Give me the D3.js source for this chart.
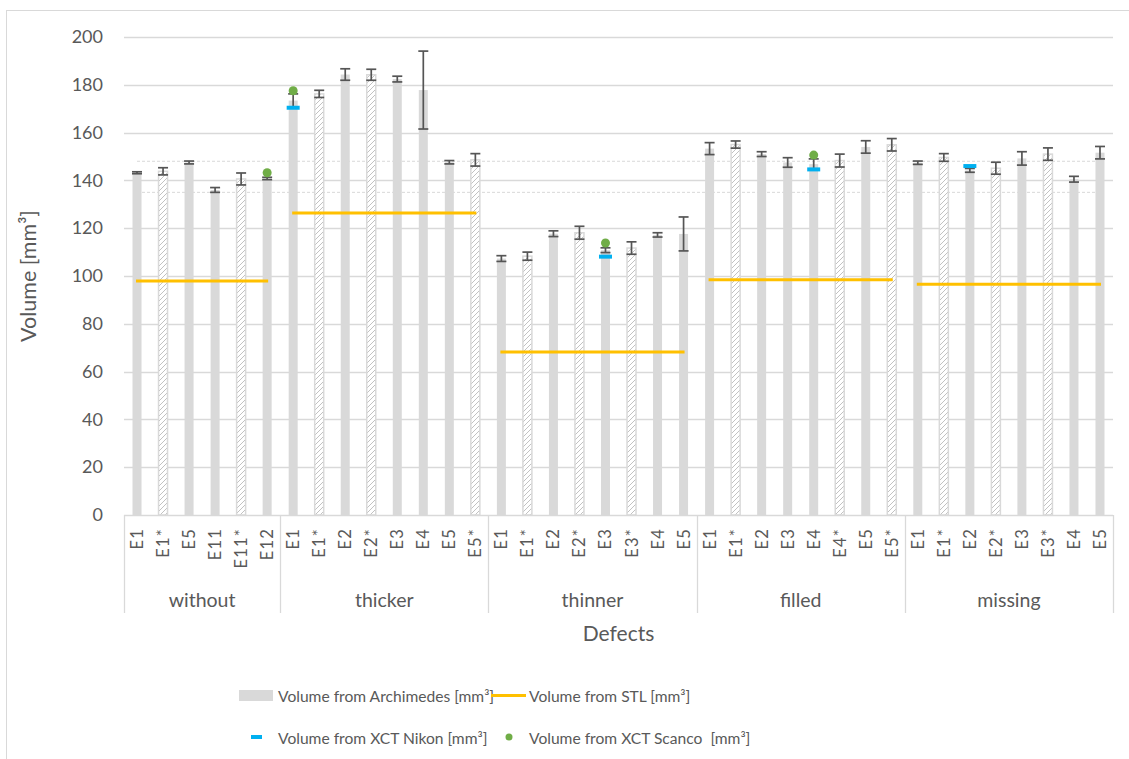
<!DOCTYPE html>
<html>
<head>
<meta charset="utf-8">
<script src="https://cdn.jsdelivr.net/npm/d3@7"></script>
<style>
  body { margin: 0; background: #fff; }
  svg { font-family: Lato, "Open Sans", sans-serif; }
</style>
</head>
<body>
<svg id="chart" width="1129" height="759"></svg>
<script>
// groups of specimens (defect type) and their specimen labels
var groups = ["without", "thicker", "thinner", "filled", "missing"];
var groupLabels = [
    ["E1", "E1*", "E5", "E11", "E11*", "E12"],
    ["E1", "E1*", "E2", "E2*", "E3", "E4", "E5", "E5*"],
    ["E1", "E1*", "E2", "E2*", "E3", "E3*", "E4", "E5"],
    ["E1", "E1*", "E2", "E3", "E4", "E4*", "E5", "E5*"],
    ["E1", "E1*", "E2", "E2*", "E3", "E3*", "E4", "E5"]
];
// volume from Archimedes [mm3], one value per specimen
var archimedes = [
    [143.2, 143.8, 147.5, 136.0, 140.6, 140.8],
    [173.4, 176.2, 184.3, 184.2, 182.4, 177.8, 147.6, 148.6],
    [107.3, 108.3, 117.7, 118.1, 110.8, 111.7, 117.2, 117.6],
    [153.3, 155.0, 151.0, 147.5, 146.8, 148.3, 154.0, 154.9],
    [147.4, 149.6, 144.2, 145.1, 149.2, 151.0, 140.5, 151.6]
];
// error bar half width
var archErr = [
    [0.4, 1.5, 0.6, 1.0, 2.5, 0.5],
    [2.8, 1.5, 2.4, 2.3, 1.2, 16.3, 0.7, 2.6],
    [1.2, 1.7, 1.2, 2.7, 1.0, 2.6, 0.9, 7.1],
    [2.5, 1.5, 1.0, 2.0, 2.2, 2.7, 2.6, 2.6],
    [0.7, 1.6, 0.8, 2.5, 2.8, 2.6, 1.2, 2.6]
];
// volume from STL, one per group
var stl = [97.9, 126.4, 68.2, 98.4, 96.5];
// XCT measurements: [group index, specimen index, value]
var nikon = [[1, 0, 170.4], [2, 4, 108.1], [3, 4, 144.6], [4, 2, 146.0]];
var scanco = [[0, 5, 143.2], [1, 0, 177.5], [2, 4, 113.8], [3, 4, 150.6]];
// dashed reference lines
var refLines = [148, 135];
var yTicks = [0, 20, 40, 60, 80, 100, 120, 140, 160, 180, 200];

var svg = d3.select("#chart");
var textCol = "#595959", gridCol = "#d9d9d9";
var margin = {left: 124, right: 16, top: 37, bottom: 244};
var W = 1129, H = 759;

// flat category list
var cats = [];
groupLabels.forEach(function(labels, g) {
    labels.forEach(function(l, i) {
        cats.push({key: g + "_" + i, g: g, i: i, label: l,
            v: archimedes[g][i], e: archErr[g][i]});
    });
});

var x = d3.scaleBand()
    .domain(cats.map(function(d) { return d.key; }))
    .range([margin.left, W - margin.right])
    .padding(0);
var y = d3.scaleLinear()
    .domain([0, 200])
    .range([H - margin.bottom, margin.top]);
var cx = function(key) { return x(key) + x.bandwidth() / 2; };

// outer frame
svg.append("rect")
    .attr("x", 6.5).attr("y", 10.5)
    .attr("width", W + 10).attr("height", H + 10)
    .attr("fill", "none").attr("stroke", gridCol);

// hatch pattern
var pat = svg.append("defs").append("pattern")
    .attr("id", "hatch")
    .attr("patternUnits", "userSpaceOnUse")
    .attr("width", 5).attr("height", 5);
pat.append("rect").attr("width", 5).attr("height", 5).attr("fill", "#fff");
pat.append("path").attr("d", "M-1,6 L6,-1 M-1,1 L1,-1 M4,6 L6,4")
    .attr("stroke", "#b3b3b3").attr("stroke-width", 0.8);

// gridlines
svg.append("g").selectAll("line")
    .data(yTicks.slice(1))
    .enter().append("line")
    .attr("x1", margin.left).attr("x2", W - margin.right)
    .attr("y1", function(d) { return Math.round(y(d)) + 0.5; })
    .attr("y2", function(d) { return Math.round(y(d)) + 0.5; })
    .attr("stroke", gridCol).attr("stroke-width", 1.3);

// y axis labels
var yAxis = d3.axisLeft(y).tickValues(yTicks).tickSize(0).tickPadding(21);
var ya = svg.append("g").attr("transform", "translate(" + margin.left + ",0)").call(yAxis);
ya.select(".domain").remove();
ya.selectAll("text").attr("fill", textCol).style("font-size", "18px")
    .style("font-family", "Lato, sans-serif");

// dashed reference lines
svg.append("g").selectAll("line")
    .data(refLines)
    .enter().append("line")
    .attr("x1", cx(cats[0].key)).attr("x2", cx(cats[cats.length - 1].key))
    .attr("y1", function(d) { return y(d); })
    .attr("y2", function(d) { return y(d); })
    .attr("stroke", "#cfcfcf").attr("stroke-width", 0.8)
    .attr("stroke-dasharray", "3,2");

// bars
var barW = 9;
svg.append("g").selectAll("rect")
    .data(cats)
    .enter().append("rect")
    .attr("x", function(d) { return cx(d.key) - barW / 2; })
    .attr("width", barW)
    .attr("y", function(d) { return y(d.v); })
    .attr("height", function(d) { return y(0) - y(d.v); })
    .attr("fill", function(d) { return d.label.indexOf("*") >= 0 ? "url(#hatch)" : "#d9d9d9"; })
    .attr("stroke", function(d) { return d.label.indexOf("*") >= 0 ? "#d9d9d9" : "none"; })
    .attr("stroke-width", 1.5);

// error bars
var eb = svg.append("g").attr("stroke", "#555").attr("stroke-width", 1.7);
cats.forEach(function(d) {
    var c = cx(d.key);
    eb.append("line").attr("x1", c).attr("x2", c)
        .attr("y1", y(d.v + d.e)).attr("y2", y(d.v - d.e));
    [d.v + d.e, d.v - d.e].forEach(function(v) {
        eb.append("line").attr("x1", c - 5).attr("x2", c + 5)
            .attr("y1", y(v)).attr("y2", y(v));
    });
});

// STL lines
svg.append("g").selectAll("line")
    .data(stl)
    .enter().append("line")
    .attr("x1", function(d, g) { return cx(g + "_0") - 1; })
    .attr("x2", function(d, g) { return cx(g + "_" + (groupLabels[g].length - 1)) + 1; })
    .attr("y1", function(d) { return y(d); })
    .attr("y2", function(d) { return y(d); })
    .attr("stroke", "#ffc000").attr("stroke-width", 3);

// Nikon dashes
svg.append("g").selectAll("rect")
    .data(nikon)
    .enter().append("rect")
    .attr("x", function(d) { return cx(d[0] + "_" + d[1]) - 6.5; })
    .attr("y", function(d) { return y(d[2]) - 2; })
    .attr("width", 13).attr("height", 4)
    .attr("fill", "#00b0f0");

// Scanco dots
svg.append("g").selectAll("circle")
    .data(scanco)
    .enter().append("circle")
    .attr("cx", function(d) { return cx(d[0] + "_" + d[1]); })
    .attr("cy", function(d) { return y(d[2]); })
    .attr("r", 4.5)
    .attr("fill", "#70ad47");

// x axis baseline and group separators
var base = y(0);
svg.append("line")
    .attr("x1", margin.left).attr("x2", W - margin.right)
    .attr("y1", base + 0.5).attr("y2", base + 0.5)
    .attr("stroke", gridCol).attr("stroke-width", 1.5);
var sepX = groups.map(function(g, gi) { return x(gi + "_0"); });
sepX.push(W - margin.right);
svg.append("g").selectAll("line")
    .data(sepX)
    .enter().append("line")
    .attr("x1", function(d) { return Math.round(d) + 0.5; })
    .attr("x2", function(d) { return Math.round(d) + 0.5; })
    .attr("y1", base).attr("y2", base + 98)
    .attr("stroke", gridCol).attr("stroke-width", 1.3);

// category labels (rotated)
svg.append("g").selectAll("text")
    .data(cats)
    .enter().append("text")
    .attr("transform", function(d) {
        return "translate(" + (cx(d.key) + 6) + "," + (base + 13) + ") rotate(-90)";
    })
    .attr("text-anchor", "end")
    .attr("fill", textCol)
    .style("font-size", "16.5px")
    .style("letter-spacing", "1.2px")
    .text(function(d) { return d.label; });

// group labels
svg.append("g").selectAll("text")
    .data(groups)
    .enter().append("text")
    .attr("x", function(d, gi) { return (sepX[gi] + sepX[gi + 1]) / 2; })
    .attr("y", base + 92)
    .attr("text-anchor", "middle")
    .attr("fill", textCol)
    .style("font-size", "19.5px")
    .text(function(d) { return d; });

// axis titles
svg.append("text")
    .attr("x", (margin.left + W - margin.right) / 2)
    .attr("y", base + 126)
    .attr("text-anchor", "middle")
    .attr("fill", textCol)
    .style("font-size", "21px")
    .text("Defects");
svg.append("text")
    .attr("transform", "translate(36," + y(100) + ") rotate(-90)")
    .attr("text-anchor", "middle")
    .attr("fill", textCol)
    .style("font-size", "21.5px")
    .text("Volume [mm³]");

// legend
var leg = svg.append("g").attr("fill", textCol).style("font-size", "15.6px");
leg.append("rect").attr("x", 239).attr("y", 690).attr("width", 34).attr("height", 11).attr("fill", "#d9d9d9");
leg.append("text").attr("x", 278).attr("y", 702).text("Volume from Archimedes [mm³]");
leg.append("line").attr("x1", 491).attr("x2", 526).attr("y1", 695.5).attr("y2", 695.5)
    .attr("stroke", "#ffc000").attr("stroke-width", 3);
leg.append("text").attr("x", 529).attr("y", 702).text("Volume from STL [mm³]");
leg.append("rect").attr("x", 251).attr("y", 735).attr("width", 11).attr("height", 4).attr("fill", "#00b0f0");
leg.append("text").attr("x", 278).attr("y", 744).text("Volume from XCT Nikon [mm³]");
leg.append("circle").attr("cx", 509).attr("cy", 737).attr("r", 3.5).attr("fill", "#70ad47");
leg.append("text").attr("x", 529).attr("y", 744).attr("xml:space", "preserve").text("Volume from XCT Scanco  [mm³]");
</script>
</body>
</html>
